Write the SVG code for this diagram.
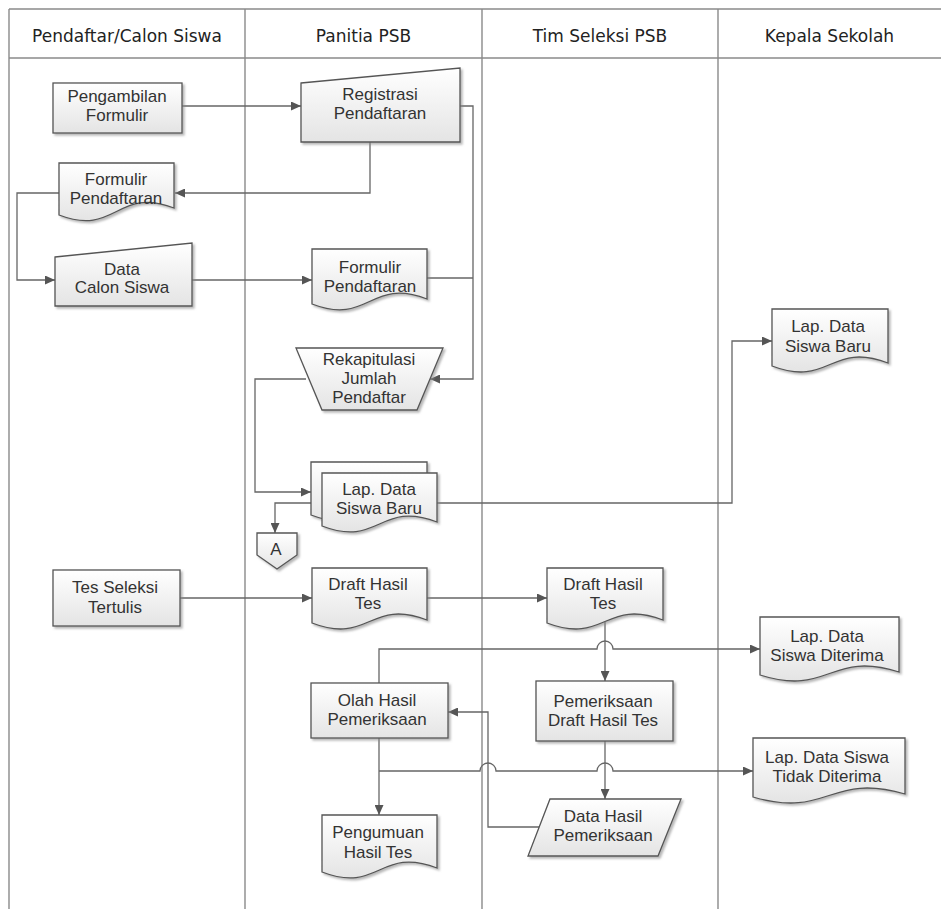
<svg xmlns="http://www.w3.org/2000/svg" width="941" height="909" viewBox="0 0 941 909">
<defs>
<linearGradient id="g" x1="0" y1="0" x2="0" y2="1">
<stop offset="0" stop-color="#ffffff"/>
<stop offset="1" stop-color="#e4e4e4"/>
</linearGradient>
<filter id="sh" x="-10%" y="-10%" width="130%" height="130%">
<feDropShadow dx="2" dy="2" stdDeviation="1.2" flood-color="#888" flood-opacity="0.6"/>
</filter>
<marker id="ar" markerUnits="userSpaceOnUse" markerWidth="11" markerHeight="9" refX="10" refY="4.5" orient="auto">
<path d="M0,0 L10,4.5 L0,9 Z" fill="#555"/>
</marker>
</defs>
<style>
.lane{stroke:#8a8a8a;stroke-width:1.4;fill:none}
.hd{font-family:"DejaVu Sans",sans-serif;font-size:17px;fill:#222;text-anchor:middle}
.n{fill:url(#g);stroke:#555;stroke-width:1.3;filter:url(#sh)}
.t{font-family:"Liberation Sans",Arial,sans-serif;font-size:17px;fill:#333;text-anchor:middle}
.c{fill:none;stroke:#666;stroke-width:1.3}
.a{marker-end:url(#ar)}
</style>
<g id="lanes">
<path class="lane" d="M9,9 H941 M9,58 H941 M9,9 V909 M245,9 V909 M482,9 V909 M718,9 V909"/>
<text class="hd" x="127" y="42">Pendaftar/Calon Siswa</text>
<text class="hd" x="363.5" y="42">Panitia PSB</text>
<text class="hd" x="600" y="42">Tim Seleksi PSB</text>
<text class="hd" x="829.5" y="42">Kepala Sekolah</text>
</g>
<g id="connectors">
<path class="c a" d="M182,106 H301"/>
<path class="c a" d="M370,142 V193 H175"/>
<path class="c a" d="M59,193 H17 V280 H55"/>
<path class="c a" d="M192,280 H312"/>
<path class="c a" d="M460,106 H473 V379 H430"/>
<path class="c" d="M427,278 H473"/>
<path class="c a" d="M306,379 H255 V492 H311"/>
<path class="c a" d="M322,503 H275 V533"/>
<path class="c a" d="M437,503 H732 V341 H772"/>
<path class="c a" d="M180,598 H312"/>
<path class="c a" d="M427,598 H547"/>
<path class="c a" d="M605,622 V681"/>
<path class="c a" d="M379,683 V649 H597 A8,8 0 0 1 613,649 H760"/>
<path class="c a" d="M539,827 H488 V712 H448"/>
<path class="c a" d="M379,738 V815"/>
<path class="c a" d="M379,771 H480 A8,8 0 0 1 496,771 H597 A8,8 0 0 1 613,771 H753"/>
<path class="c a" d="M605,741 V799"/>
</g>
<g id="pengambilan">
<rect class="n" x="53" y="83" width="129" height="50"/>
<text class="t" x="117" y="102">Pengambilan</text>
<text class="t" x="117" y="121">Formulir</text>
</g>
<g id="registrasi">
<path class="n" d="M301,83 L460,68 L460,142 L301,142 Z"/>
<text class="t" x="380" y="100">Registrasi</text>
<text class="t" x="380" y="119">Pendaftaran</text>
</g>
<g id="formulir1">
<path class="n" d="M59,163 H174 V208 C116.5,186 116.5,237 59,215 Z"/>
<text class="t" x="116" y="185">Formulir</text>
<text class="t" x="116" y="204">Pendaftaran</text>
</g>
<g id="datacalon">
<path class="n" d="M55,257 L192,243 L192,306 L55,306 Z"/>
<text class="t" x="122" y="275">Data</text>
<text class="t" x="122" y="293">Calon Siswa</text>
</g>
<g id="formulir2">
<path class="n" d="M312,249 H427 V299 C369.5,277 369.5,326 312,304 Z"/>
<text class="t" x="370" y="273">Formulir</text>
<text class="t" x="370" y="292">Pendaftaran</text>
</g>
<g id="rekapitulasi">
<path class="n" d="M296,348 L443,348 L417,410 L322,410 Z"/>
<text class="t" x="369" y="365">Rekapitulasi</text>
<text class="t" x="369" y="384">Jumlah</text>
<text class="t" x="369" y="403">Pendaftar</text>
</g>
<g id="lapbaru1">
<path class="n" d="M311,462 H427 V511 C369,489 369,537 311,515 Z"/>
<path class="n" d="M322,473 H437 V522 C379.5,500 379.5,548 322,526 Z"/>
<text class="t" x="379" y="495">Lap. Data</text>
<text class="t" x="379" y="514">Siswa Baru</text>
</g>
<g id="konektorA">
<path class="n" d="M257,533 H297 V555 L277,569 L257,555 Z"/>
<text class="t" x="276" y="555">A</text>
</g>
<g id="lapbaru2">
<path class="n" d="M772,309 H888 V363 C830,341 830,388 772,366 Z"/>
<text class="t" x="828" y="332">Lap. Data</text>
<text class="t" x="828" y="352">Siswa Baru</text>
</g>
<g id="tesseleksi">
<rect class="n" x="53" y="570" width="127" height="56"/>
<text class="t" x="115" y="593">Tes Seleksi</text>
<text class="t" x="115" y="613">Tertulis</text>
</g>
<g id="draft1">
<path class="n" d="M312,568 H427 V620 C369.5,598 369.5,645 312,623 Z"/>
<text class="t" x="368" y="590">Draft Hasil</text>
<text class="t" x="368" y="609">Tes</text>
</g>
<g id="draft2">
<path class="n" d="M547,568 H663 V620 C605,598 605,645 547,623 Z"/>
<text class="t" x="603" y="590">Draft Hasil</text>
<text class="t" x="603" y="609">Tes</text>
</g>
<g id="lapditerima">
<path class="n" d="M760,617 H899 V672 C829.5,650 829.5,697 760,675 Z"/>
<text class="t" x="827" y="642">Lap. Data</text>
<text class="t" x="827" y="661">Siswa Diterima</text>
</g>
<g id="pemeriksaan">
<rect class="n" x="536" y="681" width="137" height="60"/>
<text class="t" x="603" y="707">Pemeriksaan</text>
<text class="t" x="603" y="726">Draft Hasil Tes</text>
</g>
<g id="olah">
<rect class="n" x="311" y="683" width="137" height="55"/>
<text class="t" x="377" y="706">Olah Hasil</text>
<text class="t" x="377" y="725">Pemeriksaan</text>
</g>
<g id="laptidak">
<path class="n" d="M753,738 H905 V794 C829,772 829,819 753,797 Z"/>
<text class="t" x="827" y="763">Lap. Data Siswa</text>
<text class="t" x="827" y="782">Tidak Diterima</text>
</g>
<g id="datahasil">
<path class="n" d="M550,799 L681,799 L658,856 L528,856 Z"/>
<text class="t" x="603" y="822">Data Hasil</text>
<text class="t" x="603" y="841">Pemeriksaan</text>
</g>
<g id="pengumuan">
<path class="n" d="M322,815 H437 V868 C379.5,846 379.5,894 322,872 Z"/>
<text class="t" x="378" y="838">Pengumuan</text>
<text class="t" x="378" y="858">Hasil Tes</text>
</g>
</svg>
